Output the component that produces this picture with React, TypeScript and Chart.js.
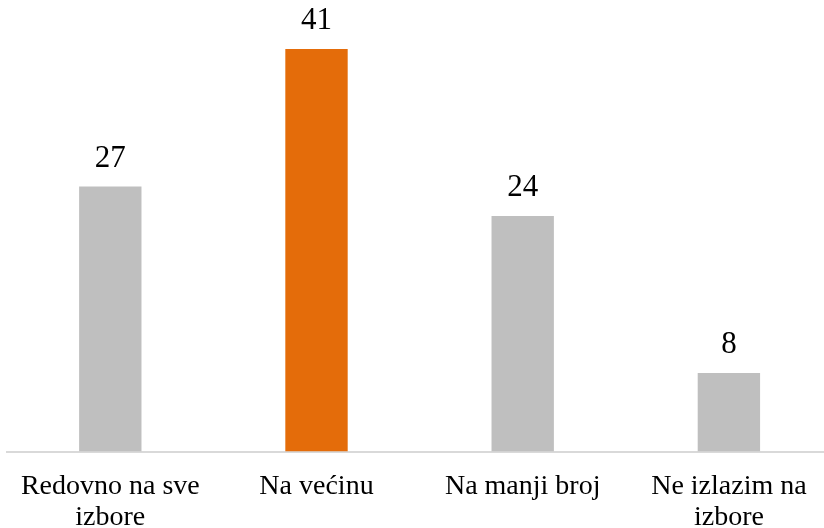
import React, { useEffect, useRef } from "react";
import { Chart, registerables } from "chart.js";

Chart.register(...registerables);

const categories: string[][] = [
  ["Redovno na sve", "izbore"],
  ["Na većinu"],
  ["Na manji broj"],
  ["Ne izlazim na", "izbore"],
];
const values: number[] = [27, 41, 24, 8];
const barColors: string[] = ["#BFBFBF", "#E46C0A", "#BFBFBF", "#BFBFBF"];

const dataLabelPlugin = {
  id: "dataLabels",
  afterDatasetsDraw(chart: any) {
    const ctx = chart.ctx;
    const meta = chart.getDatasetMeta(0);
    ctx.save();
    ctx.font = '31px "Liberation Serif", serif';
    ctx.fillStyle = "#000000";
    ctx.textAlign = "center";
    ctx.textBaseline = "middle";
    meta.data.forEach((bar: any, i: number) => {
      ctx.fillText(String(values[i]), bar.x, bar.y - 28);
    });
    ctx.restore();
  },
};

export default function App() {
  const canvasRef = useRef<HTMLCanvasElement | null>(null);

  useEffect(() => {
    if (!canvasRef.current) return;
    const chart = new Chart(canvasRef.current, {
      type: "bar",
      data: {
        labels: categories,
        datasets: [
          {
            data: values,
            backgroundColor: barColors,
            borderWidth: 0,
            barPercentage: 0.3025,
            categoryPercentage: 1,
          },
        ],
      },
      options: {
        responsive: false,
        animation: false,
        layout: { padding: { left: 7, right: 8, top: 0, bottom: 0 } },
        plugins: {
          legend: { display: false },
          tooltip: { enabled: false },
        },
        scales: {
          x: {
            grid: { display: false, drawTicks: false, tickLength: 0 },
            border: { display: true, color: "#D9D9D9", width: 2 },
            ticks: {
              color: "#000000",
              padding: 20,
              maxRotation: 0,
              autoSkip: false,
              font: { family: '"Liberation Serif", serif', size: 28, lineHeight: 1.09 },
            },
            afterFit(scale: any) {
              scale.height = 76.5;
            },
          },
          y: {
            display: false,
            min: 0,
            max: 46,
          },
        },
      },
      plugins: [dataLabelPlugin],
    });
    return () => chart.destroy();
  }, []);

  return (
    <div
      style={{
        position: "fixed",
        left: 0,
        top: 0,
        width: 824,
        height: 528,
        overflow: "hidden",
        background: "#ffffff",
      }}
    >
      <canvas ref={canvasRef} width={840} height={528} style={{ width: 840, height: 528 }} />
    </div>
  );
}
